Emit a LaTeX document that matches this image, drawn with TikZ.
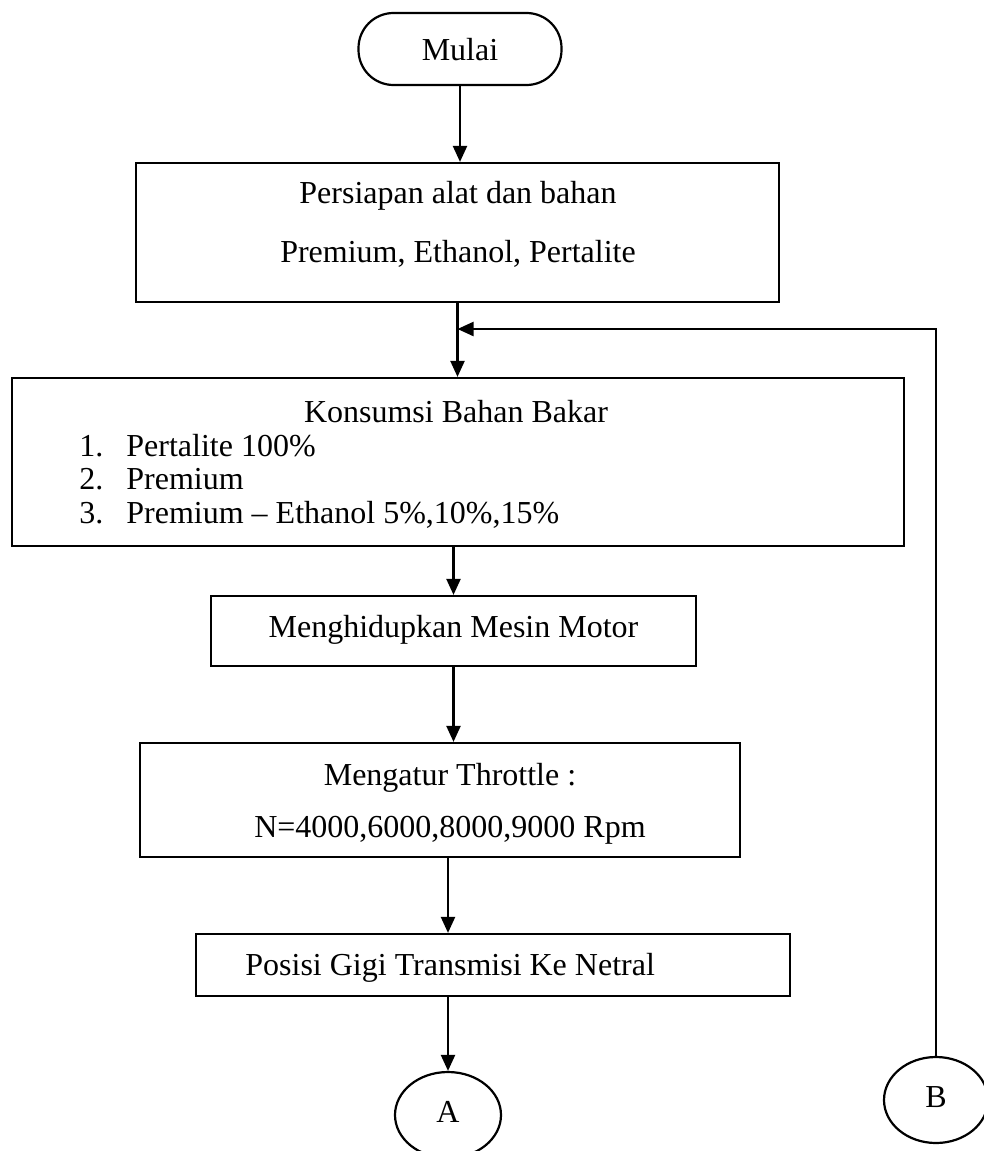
\documentclass[tikz,border=0pt]{standalone}
\usepackage{fontspec}
\setmainfont{Liberation Serif}
\usetikzlibrary{arrows.meta,shapes.geometric}
\begin{document}
\begin{tikzpicture}[x=0.5pt,y=-0.5pt,
  box/.style={draw, line width=1.1pt, inner sep=0pt},
  oval/.style={draw, ellipse, line width=1.1pt, inner sep=0pt},
  txt/.style={inner sep=0pt, anchor=base, font=\fontsize{16pt}{19pt}\selectfont},
  ltxt/.style={txt, anchor=base west},
  arr/.style={line width=1.1pt, -{Triangle[length=8pt,width=7pt]}}]
\useasboundingbox (0,0) rectangle (984,1151);

% start
\node[box, rounded corners=17.5pt, minimum width=101.5pt, minimum height=36pt] (mulai) at (460,49) {};
\node[txt] (tmulai) at (460,61) {Mulai};

% preparation
\node[box, minimum width=321.5pt, minimum height=69.5pt] (persiapan) at (457.5,232.5) {};
\node[txt] (tp1) at (458,203) {Persiapan alat dan bahan};
\node[txt] (tp2) at (458,262) {Premium, Ethanol, Pertalite};

% fuel consumption
\node[box, minimum width=446pt, minimum height=84pt] (konsumsi) at (458,462) {};
\node[txt] (tk0) at (456,422) {Konsumsi Bahan Bakar};
\node[ltxt] (n1) at (79,456) {1.};
\node[ltxt] (k1) at (126,456) {Pertalite 100\%};
\node[ltxt] (n2) at (79,489) {2.};
\node[ltxt] (k2) at (126,489) {Premium};
\node[ltxt] (n3) at (79,523) {3.};
\node[ltxt] (k3) at (126,523) {Premium – Ethanol 5\%,10\%,15\%};

% engine start
\node[box, minimum width=242.5pt, minimum height=35pt] (mesin) at (453.5,631) {};
\node[txt] (tm) at (453.5,637) {Menghidupkan Mesin Motor};

% throttle
\node[box, minimum width=300pt, minimum height=57pt] (throttle) at (440,800) {};
\node[txt] (tt1) at (450,785) {Mengatur Throttle :};
\node[txt] (tt2) at (450,837) {N=4000,6000,8000,9000 Rpm};

% neutral
\node[box, minimum width=297pt, minimum height=31pt] (posisi) at (493,965) {};
\node[ltxt] (tpos) at (245,975) {Posisi Gigi Transmisi Ke Netral};

% connectors A and B
\node[oval, minimum width=53pt, minimum height=43pt] (A) at (448,1115) {};
\node[txt] (tA) at (448,1122) {A};
\node[oval, minimum width=52pt, minimum height=43pt] (B) at (936,1100) {};
\node[txt] (tB) at (936,1107) {B};

\coordinate (fb) at (457.5,329);

\draw[arr] (mulai.south) -- (mulai.south |- persiapan.north);
\draw[arr] (persiapan.south) -- (persiapan.south |- konsumsi.north);
\draw[arr] (B.north) |- (fb);
\draw[arr] (mesin.north |- konsumsi.south) -- (mesin.north);
\draw[arr] (mesin.south) -- (mesin.south |- throttle.north);
\draw[arr] (throttle.south -| A.north) -- (posisi.north -| A.north);
\draw[arr] (posisi.south -| A.north) -- (A.north);
\end{tikzpicture}
\end{document}
